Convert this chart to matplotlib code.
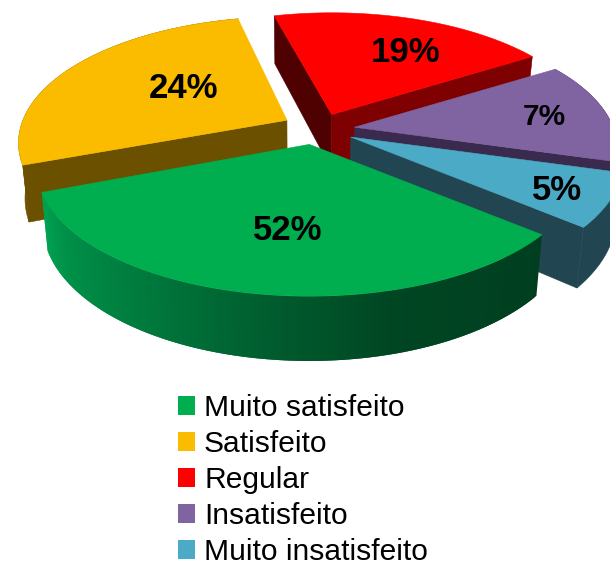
import numpy as np
import matplotlib
matplotlib.use("Agg")
import matplotlib.pyplot as plt
from matplotlib.patches import Polygon, Patch

categories = ["Muito satisfeito", "Satisfeito", "Regular", "Insatisfeito", "Muito insatisfeito"]
printed_pct = [52, 24, 19, 7, 5]                 # numbers printed on the slices
drawn_share = [33.0, 26.7, 20.3, 13.3, 6.7]      # share of the circle each slice occupies in the picture

top_colors = ["#00AE50", "#FBBC00", "#FF0000", "#8064A2", "#4BAAC6"]
cut_start_colors = [None, "#6B5000", "#4F0000", None, None]
cut_end_colors = [None, None, "#7F0000", "#3A2A4D", "#214651"]
arc_colors = [None, "#6B5000", None, "#3A2A4D", "#214651"]
rim_scale = [1.0, 0.985, 0.965, 0.965, 1.0]
nudges = [(-5, -1), (-2, -2), (-1, 0), (0, 0), (0, 0)]
trim_start = [0, 1.0, 0, 0, 0]
trim_end = [0, -2.5, 0, 0, 0]
label_xy = [(288, 230), (183, 88), (406, 52), (544, 117), (557, 190)]
label_size = [25, 25, 25, 21.5, 25]

CX, CY, RX, RY, K, EXPLODE = 320, 129.5, 268, 124, 0.183, 0.13
START = 320.0
FONT = "Liberation Sans"

fig = plt.figure(figsize=(6.10, 5.62), dpi=100)
ax = fig.add_axes([0, 0, 1, 1])
ax.set_xlim(0, 610)
ax.set_ylim(562, 0)
ax.axis("off")


def rim(theta_deg, ax0, ay0, scale):
    t = np.radians(theta_deg)
    u, v = scale * np.cos(t), -scale * np.sin(t)
    d = 1 - K * v
    return ax0 + RX * u / d, ay0 + RY * v / d


def lower(x, y):
    return 300 + 0.977 * (np.asarray(x) - 300), 1.06 * np.asarray(y) + 47


def wall(xs, ys, color, z, lw=0.4):
    bx, by = lower(xs, ys)
    pts = np.column_stack([np.r_[xs, bx[::-1]], np.r_[ys, by[::-1]]])
    ax.add_patch(Polygon(pts, closed=True, fc=color, ec=color if lw else "none", lw=lw, zorder=z))


GREEN_STOP_T = [200, 215, 240, 265, 285, 320]
GREEN_STOP_G = [165, 145, 120, 90, 70, 62]

fractions = np.array(drawn_share) / sum(drawn_share)
ends = START - np.r_[0, np.cumsum(fractions)] * 360
draw_order = [1, 2, 3, 4, 0]
for z, i in enumerate(draw_order):
    a0, a1 = ends[i], ends[i + 1]
    mid = np.radians((a0 + a1) / 2)
    apx = CX + EXPLODE * RX * np.cos(mid) + nudges[i][0]
    apy = CY - EXPLODE * RY * np.sin(mid) + nudges[i][1]
    th = np.linspace(a0 - trim_start[i], a1 + trim_end[i], 160)
    xs, ys = rim(th, apx, apy, rim_scale[i])
    zb = z * 10
    if cut_start_colors[i]:
        wall(np.array([apx, xs[0]]), np.array([apy, ys[0]]), cut_start_colors[i], zb)
    if cut_end_colors[i]:
        wall(np.array([apx, xs[-1]]), np.array([apy, ys[-1]]), cut_end_colors[i], zb + 1)
    if arc_colors[i]:
        wall(xs, ys, arc_colors[i], zb + 2)
    if i == 0:
        for j in range(len(th) - 1):
            g = np.interp((th[j] + th[j + 1]) / 2, GREEN_STOP_T, GREEN_STOP_G)
            c = (0, g / 255, g / 2 / 255)
            wall(xs[j:j + 3], ys[j:j + 3], c, zb + 2, lw=0)
    ax.add_patch(Polygon(np.column_stack([np.r_[apx, xs], np.r_[apy, ys]]), closed=True,
                         fc=top_colors[i], ec=top_colors[i], lw=0.4, zorder=zb + 5))

for (x, y), p, s in zip(label_xy, printed_pct, label_size):
    ax.text(x, y, f"{p}%", ha="center", va="center", fontsize=s, fontweight="bold",
            family=FONT, color="black", zorder=100)

handles = [Patch(fc=c, ec="none") for c in top_colors]
fig.legend(handles, categories, loc="upper left", bbox_to_anchor=(178 / 610, 1 - 394 / 562),
           frameon=False, prop={"family": FONT, "size": 21.6}, handlelength=0.567,
           handleheight=0.567, handletextpad=0.3, labelspacing=0.267,
           borderpad=0, borderaxespad=0)

fig.savefig("out.png", dpi=100)
